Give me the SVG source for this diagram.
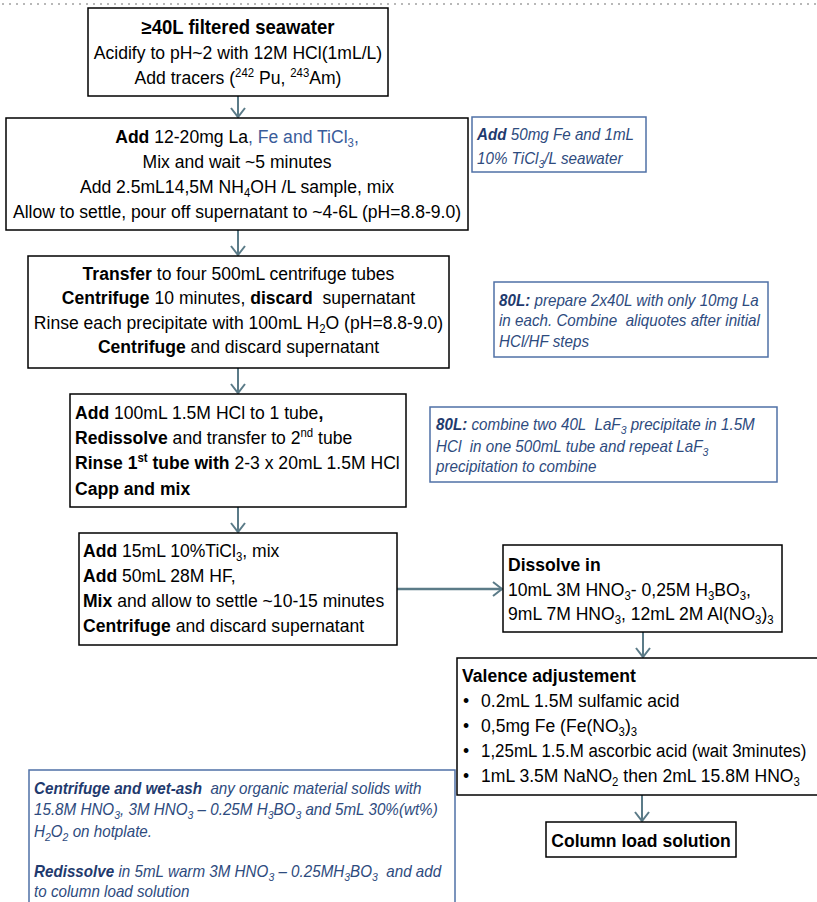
<svg xmlns="http://www.w3.org/2000/svg" width="817" height="902" viewBox="0 0 817 902">
<style>
  text { font-family: "Liberation Sans", Arial, sans-serif; fill: #000; }
  .m { font-size: 18.5px; }
  .c { text-anchor: middle; }
  .b { font-weight: bold; }
  .n { font-size: 16px; font-style: italic; fill: #2E4B7E; }
  .n .b { fill: #1F3A6E; }
  .blue { fill: #3A5C9A; }
  .box { fill: #fff; stroke: #000; stroke-width: 1.5; }
  .note { fill: #fff; stroke: #4F70A6; stroke-width: 1.5; }
  .con line { stroke: #5B7B88; stroke-width: 2; fill: none; }
</style>
<defs>
  <marker id="arr" viewBox="0 0 12 16" refX="10" refY="8" markerWidth="12" markerHeight="16" markerUnits="userSpaceOnUse" orient="auto">
    <path d="M1,1 L10,8 L1,15" fill="none" stroke="#5B7B88" stroke-width="2"/>
  </marker>
</defs>
<rect width="817" height="902" fill="#fff"/>
<line x1="2" y1="4" x2="817" y2="4" stroke="#B8B8B8" stroke-width="2" stroke-dasharray="2,5"/>

<g id="connectors" class="con">
  <line x1="238" y1="96" x2="238" y2="117" marker-end="url(#arr)"/>
  <line x1="238" y1="230" x2="238" y2="255" marker-end="url(#arr)"/>
  <line x1="238" y1="368" x2="238" y2="393" marker-end="url(#arr)"/>
  <line x1="238" y1="507" x2="238" y2="532" marker-end="url(#arr)"/>
  <line x1="397" y1="589" x2="502" y2="589" marker-end="url(#arr)" style="stroke-width:2.5"/>
  <line x1="643" y1="632" x2="643" y2="657" marker-end="url(#arr)"/>
  <line x1="642" y1="795" x2="642" y2="821" marker-end="url(#arr)"/>
</g>

<g id="n1">
  <rect class="box" x="88" y="8" width="300" height="88"/>
  <g transform="matrix(0.95 0 0 1 11.9 0)">
    <text class="c b" x="238" y="34" font-size="19.5">≥40L filtered seawater</text>
    <text class="m c" x="238" y="59">Acidify to pH~2 with 12M HCl(1mL/L)</text>
    <text class="m c" x="238" y="84">Add tracers (<tspan dy="-7" font-size="12">242</tspan><tspan dy="7"> Pu, </tspan><tspan dy="-7" font-size="12">243</tspan><tspan dy="7">Am)</tspan></text>
  </g>
</g>

<g id="n2">
  <rect class="box" x="6" y="118" width="462" height="112"/>
  <g transform="matrix(0.95 0 0 1 11.85 0)">
    <text class="m c" x="237" y="143"><tspan class="b">Add</tspan> 12-20mg La<tspan class="blue">, Fe and TiCl</tspan><tspan class="blue" dy="4" font-size="12">3</tspan><tspan class="blue" dy="-4">,</tspan></text>
    <text class="m c" x="237" y="168">Mix and wait ~5 minutes</text>
    <text class="m c" x="237" y="193">Add 2.5mL14,5M NH<tspan dy="4" font-size="12">4</tspan><tspan dy="-4">OH /L sample, mix</tspan></text>
    <text class="m c" x="237" y="218">Allow to settle, pour off supernatant to ~4-6L (pH=8.8-9.0)</text>
  </g>
</g>

<g id="note1">
  <rect class="note" x="472" y="117" width="174" height="55"/>
  <g transform="matrix(0.95 0 0 1 23.85 0)">
    <text class="n" x="477" y="140"><tspan class="b">Add</tspan> 50mg Fe and 1mL</text>
    <text class="n" x="477" y="164">10% TiCl<tspan dy="4" font-size="11">3</tspan><tspan dy="-4">/L seawater</tspan></text>
  </g>
</g>

<g id="n3">
  <rect class="box" x="28" y="256" width="421" height="112"/>
  <g transform="matrix(0.95 0 0 1 11.925 0)">
    <text class="m c" x="238.5" y="280"><tspan class="b">Transfer</tspan> to four 500mL centrifuge tubes</text>
    <text class="m c" x="238.5" y="304" xml:space="preserve"><tspan class="b">Centrifuge</tspan> 10 minutes, <tspan class="b">discard</tspan>  supernatant</text>
    <text class="m c" x="238.5" y="329">Rinse each precipitate with 100mL H<tspan dy="4" font-size="12">2</tspan><tspan dy="-4">O (pH=8.8-9.0)</tspan></text>
    <text class="m c" x="238.5" y="353"><tspan class="b">Centrifuge</tspan> and discard supernatant</text>
  </g>
</g>

<g id="note2">
  <rect class="note" x="494" y="282" width="274" height="75"/>
  <g transform="matrix(0.95 0 0 1 24.95 0)">
    <text class="n" x="499" y="306"><tspan class="b">80L:</tspan> prepare 2x40L with only 10mg La</text>
    <text class="n" x="499" y="326" xml:space="preserve">in each. Combine  aliquotes after initial</text>
    <text class="n" x="499" y="347">HCl/HF steps</text>
  </g>
</g>

<g id="n4">
  <rect class="box" x="70" y="394" width="336" height="113"/>
  <g transform="matrix(0.95 0 0 1 3.75 0)">
    <text class="m" x="75" y="419"><tspan class="b">Add</tspan> 100mL 1.5M HCl to 1 tube<tspan class="b">,</tspan></text>
    <text class="m" x="75" y="444"><tspan class="b">Redissolve</tspan> and transfer to 2<tspan dy="-7" font-size="12">nd</tspan><tspan dy="7"> tube</tspan></text>
    <text class="m" x="75" y="469"><tspan class="b">Rinse 1</tspan><tspan class="b" dy="-7" font-size="12">st</tspan><tspan class="b" dy="7"> tube with</tspan> 2-3 x 20mL 1.5M HCl</text>
    <text class="m b" x="75" y="495">Capp and mix</text>
  </g>
</g>

<g id="note3">
  <rect class="note" x="430" y="407" width="347" height="75"/>
  <g transform="matrix(0.95 0 0 1 21.8 0)">
    <text class="n" x="436" y="430" xml:space="preserve"><tspan class="b">80L:</tspan> combine two 40L  LaF<tspan dy="4" font-size="11">3</tspan><tspan dy="-4"> precipitate in 1.5M</tspan></text>
    <text class="n" x="436" y="452" xml:space="preserve">HCl  in one 500mL tube and repeat LaF<tspan dy="4" font-size="11">3</tspan></text>
    <text class="n" x="436" y="472">precipitation to combine</text>
  </g>
</g>

<g id="n5">
  <rect class="box" x="79" y="533" width="318" height="112"/>
  <g transform="matrix(0.95 0 0 1 4.15 0)">
    <text class="m" x="83" y="557"><tspan class="b">Add</tspan> 15mL 10%TiCl<tspan dy="4" font-size="12">3</tspan><tspan dy="-4">, mix</tspan></text>
    <text class="m" x="83" y="582"><tspan class="b">Add</tspan> 50mL 28M HF,</text>
    <text class="m" x="83" y="607"><tspan class="b">Mix</tspan> and allow to settle ~10-15 minutes</text>
    <text class="m" x="83" y="632"><tspan class="b">Centrifuge</tspan> and discard supernatant</text>
  </g>
</g>

<g id="n6">
  <rect class="box" x="503" y="545" width="279" height="87"/>
  <g transform="matrix(0.95 0 0 1 25.4 0)">
    <text class="m b" x="508" y="571">Dissolve in</text>
    <text class="m" x="508" y="596">10mL 3M HNO<tspan dy="4" font-size="12">3</tspan><tspan dy="-4">- 0,25M H</tspan><tspan dy="4" font-size="12">3</tspan><tspan dy="-4">BO</tspan><tspan dy="4" font-size="12">3</tspan><tspan dy="-4">,</tspan></text>
    <text class="m" x="508" y="620">9mL 7M HNO<tspan dy="4" font-size="12">3</tspan><tspan dy="-4">, 12mL 2M Al(NO</tspan><tspan dy="4" font-size="12">3</tspan><tspan dy="-4">)</tspan><tspan dy="4" font-size="12">3</tspan></text>
  </g>
</g>

<g id="n7">
  <rect class="box" x="457" y="658" width="375" height="137"/>
  <g transform="matrix(0.95 0 0 1 23.1 0)">
    <text class="m b" x="462" y="682">Valence adjustement</text>
    <text class="m" x="463" y="707">•</text>
    <text class="m" x="482" y="707">0.2mL 1.5M sulfamic acid</text>
    <text class="m" x="463" y="732">•</text>
    <text class="m" x="482" y="732">0,5mg Fe (Fe(NO<tspan dy="4" font-size="12">3</tspan><tspan dy="-4">)</tspan><tspan dy="4" font-size="12">3</tspan></text>
    <text class="m" x="463" y="757">•</text>
    <text x="482" y="757" font-size="17.8">1,25mL 1.5.M ascorbic acid (wait 3minutes)</text>
    <text class="m" x="463" y="782">•</text>
    <text class="m" x="482" y="782">1mL 3.5M NaNO<tspan dy="4" font-size="12">2</tspan><tspan dy="-4"> then 2mL 15.8M HNO</tspan><tspan dy="4" font-size="12">3</tspan></text>
  </g>
</g>

<g id="n8">
  <rect class="box" x="546" y="822" width="190" height="35"/>
  <g transform="matrix(0.95 0 0 1 32.05 0)">
    <text class="m c b" x="641" y="847">Column load solution</text>
  </g>
</g>

<g id="note4">
  <rect class="note" x="29" y="770" width="426" height="140"/>
  <g transform="matrix(0.95 0 0 1 1.7 0)">
    <text class="n" x="34" y="794" xml:space="preserve"><tspan class="b">Centrifuge and wet-ash</tspan>  any organic material solids with</text>
    <text class="n" x="34" y="815">15.8M HNO<tspan dy="4" font-size="11">3</tspan><tspan dy="-4">, 3M HNO</tspan><tspan dy="4" font-size="11">3</tspan><tspan dy="-4"> – 0.25M H</tspan><tspan dy="4" font-size="11">3</tspan><tspan dy="-4">BO</tspan><tspan dy="4" font-size="11">3</tspan><tspan dy="-4"> and 5mL 30%(wt%)</tspan></text>
    <text class="n" x="34" y="837">H<tspan dy="4" font-size="11">2</tspan><tspan dy="-4">O</tspan><tspan dy="4" font-size="11">2</tspan><tspan dy="-4"> on hotplate.</tspan></text>
    <text class="n" x="34" y="877" xml:space="preserve"><tspan class="b">Redissolve</tspan> in 5mL warm 3M HNO<tspan dy="4" font-size="11">3</tspan><tspan dy="-4"> – 0.25MH</tspan><tspan dy="4" font-size="11">3</tspan><tspan dy="-4">BO</tspan><tspan dy="4" font-size="11">3</tspan><tspan dy="-4">  and add</tspan></text>
    <text class="n" x="34" y="897">to column load solution</text>
  </g>
</g>
</svg>
